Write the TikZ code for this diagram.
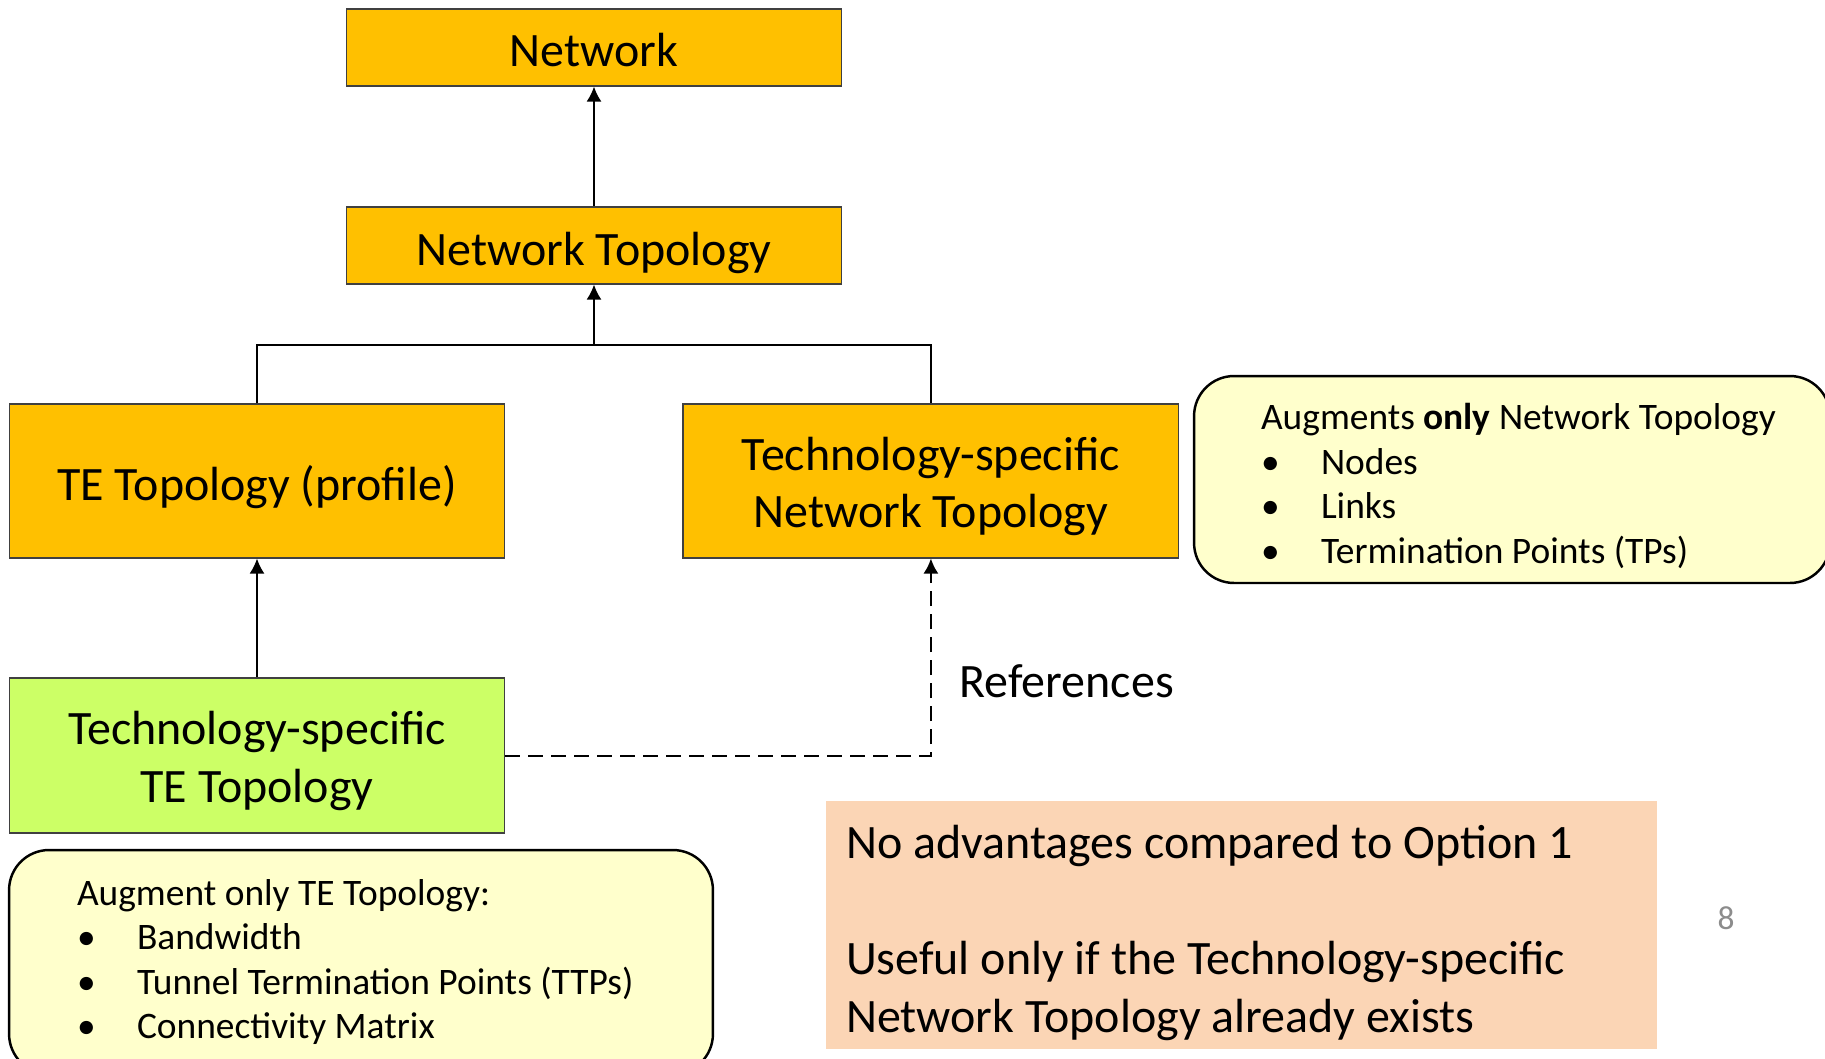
\documentclass[tikz,border=0pt]{standalone}
\usepackage{fontspec}
\setmainfont{Carlito}
\usepackage{tikz}
\usetikzlibrary{arrows.meta,positioning,calc}
\definecolor{topoorange}{HTML}{FFC000}
\definecolor{tegreen}{HTML}{CCFF66}
\definecolor{notefill}{HTML}{FFFFCC}
\definecolor{peach}{HTML}{FBD5B5}
\tikzset{topo box/.style={rectangle,fill=topoorange,draw=black!75,line width=0.6pt,minimum width=9.92cm,minimum height=1.54cm,inner sep=0pt,align=center,font=\fontsize{27.3}{33}\selectfont,
	execute at begin node={\rule{0pt}{1.03cm}},execute at end node={\rule[-0.25cm]{0pt}{0.25cm}}},
big box/.style={topo box,minimum height=3.08cm},
two line/.style={execute at begin node={\rule{0pt}{2.13cm}}},
note box/.style={rectangle,rounded corners=0.8cm,fill=notefill,draw=black,line width=1.4pt,align=flush left,inner sep=0pt,font=\fontsize{21.3}{25.4}\selectfont},
link/.style={-{Latex[length=0.3cm,width=0.3cm]},line width=1.15pt},
ref link/.style={link,dash pattern=on 0.3cm off 0.16cm}
}
\newcommand{\itembullet}{\makebox[1.2cm][l]{\textbullet}}

\begin{document}
\begin{tikzpicture}[x=0.02cm,y=-0.02cm]
		\useasboundingbox (0,0) rectangle (1825,1058);
		\node[topo box] (net) at (594,47.5) {Network};
		\node[topo box] (ntopo) [below = 2.4cm of net] {Network Topology};
		\node[big box] (teprof) at (257,481) {TE Topology (profile)};
		\node[big box,two line] (tsnt) [right = 3.54cm of teprof] {Technology-specific\\Network Topology};
		\node[big box,two line,fill=tegreen,minimum height=3.1cm] (tste) [below = 2.38cm of teprof] {Technology-specific\\TE Topology};
		\coordinate[below = 1.2cm of ntopo.south] (join);
		
		\draw[link] (ntopo) -- (net);
		\draw[line width=1.15pt] (teprof.north) |- (join) -| (tsnt.north);
		\draw[link] (join) -- (ntopo.south);
		\draw[link] (tste) -- (teprof);
		\draw[ref link] (tste.east) -| (tsnt.south);
		\node[anchor=west,font=\fontsize{27.3}{33}\selectfont] (refs) at (953.5,681) {References};
		
		% notes
		\node[note box,minimum width=12.72cm,minimum height=4.14cm,text width=10.04cm] (augnt) at (1512,479.5)
		{\rule{0pt}{22.5pt}\mbox{Augments \textbf{only} Network Topology}\\
		\itembullet Nodes\\
		\itembullet Links\\
		\itembullet Termination Points (TPs)};
		\node[note box,minimum width=14.08cm,minimum height=4.48cm,text width=11.36cm] (augte) at (361,962)
		{Augment only TE Topology:\\
		\itembullet Bandwidth\\
		\itembullet \mbox{Tunnel Termination Points (TTPs)}\\
		\itembullet Connectivity Matrix};
		\node[rectangle,fill=peach,minimum width=16.62cm,minimum height=4.96cm,text width=15.82cm,inner sep=0pt,align=flush left,font=\fontsize{27.3}{33}\selectfont] (verdict) at (1241.5,925)
		{\rule{0pt}{28pt}No advantages compared to Option 1\\[33pt]
		Useful only if the Technology-specific\\
		Network Topology already exists};
		\node[text=black!45,font=\fontsize{19}{23}\selectfont] (page) at (1726,918) {8};
\end{tikzpicture}
\end{document}
